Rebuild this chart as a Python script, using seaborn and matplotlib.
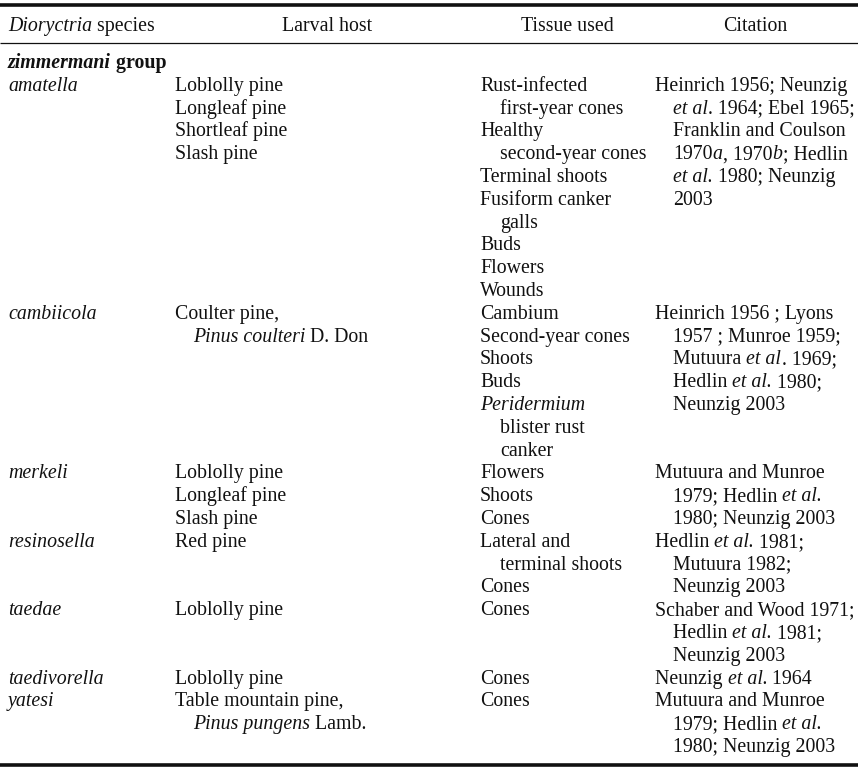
import matplotlib
matplotlib.use("Agg")
import matplotlib.pyplot as plt
import seaborn as sns

# --- table content -------------------------------------------------------
# text between underscores is set in italics
headers = ["_Dioryctria_ species", "Larval host", "Tissue used", "Citation"]
group_label = "_zimmermani_ group"

species = ["amatella", "cambiicola", "merkeli", "resinosella", "taedae",
           "taedivorella", "yatesi"]

# each cell = list of items; "\n" inside an item = wrapped continuation (indented)
hosts = [
    ["Loblolly pine", "Longleaf pine", "Shortleaf pine", "Slash pine"],
    ["Coulter pine,\n_Pinus coulteri_ D. Don"],
    ["Loblolly pine", "Longleaf pine", "Slash pine"],
    ["Red pine"],
    ["Loblolly pine"],
    ["Loblolly pine"],
    ["Table mountain pine,\n_Pinus pungens_ Lamb."],
]

tissues = [
    ["Rust-infected\nfirst-year cones", "Healthy\nsecond-year cones",
     "Terminal shoots", "Fusiform canker\ngalls", "Buds", "Flowers", "Wounds"],
    ["Cambium", "Second-year cones", "Shoots", "Buds",
     "_Peridermium_\nblister rust\ncanker"],
    ["Flowers", "Shoots", "Cones"],
    ["Lateral and\nterminal shoots", "Cones"],
    ["Cones"],
    ["Cones"],
    ["Cones"],
]

citations = [
    ["Heinrich 1956; Neunzig\n_et al_. 1964; Ebel 1965;\nFranklin and Coulson\n"
     "1970_a_, 1970_b_; Hedlin\n_et al._ 1980; Neunzig\n2003"],
    ["Heinrich 1956 ; Lyons\n1957 ; Munroe 1959;\nMutuura _et al_. 1969;\n"
     "Hedlin _et al._ 1980;\nNeunzig 2003"],
    ["Mutuura and Munroe\n1979; Hedlin _et al._\n1980; Neunzig 2003"],
    ["Hedlin _et al._ 1981;\nMutuura 1982;\nNeunzig 2003"],
    ["Schaber and Wood 1971;\nHedlin _et al._ 1981;\nNeunzig 2003"],
    ["Neunzig _et al._ 1964"],
    ["Mutuura and Munroe\n1979; Hedlin _et al._\n1980; Neunzig 2003"],
]

# --- style ---------------------------------------------------------------
sns.set_theme(style="white")
plt.rcParams["font.family"] = ["Liberation Serif", "DejaVu Serif"]

W, H = 858, 770
fig = plt.figure(figsize=(W / 100, H / 100), dpi=100)
ax = fig.add_axes([0, 0, 1, 1])
ax.set_xlim(0, W)
ax.set_ylim(H, 0)
ax.axis("off")
renderer = fig.canvas.get_renderer()

FS = 14.3
ink = "#111111"
col_x = [8, 175, 480, 655]
indent = [0, 18, 20, 18]
pitch = 22.8
base0 = 68


def seg_width(s, **kw):
    # bar-padded measurement so that spaces are counted
    t = ax.text(0, 0, "|" + s + "|", fontsize=FS, **kw)
    b = ax.text(0, 0, "||", fontsize=FS, **kw)
    w = t.get_window_extent(renderer).width - b.get_window_extent(renderer).width
    t.remove()
    b.remove()
    return w


def put(x, y, s, weight="normal", italic=False, ha="left"):
    parts = s.split("_")
    styles = ["italic" if (i % 2 == 1) != italic else "normal" for i in range(len(parts))]
    if ha == "center":
        total = sum(seg_width(p, fontweight=weight, style=st)
                    for p, st in zip(parts, styles) if p)
        x = x - total / 2
    for i, (p, st) in enumerate(zip(parts, styles)):
        if not p:
            continue
        ax.text(x, y, p, fontsize=FS, color=ink, va="baseline", ha="left",
                fontweight=weight, style=st)
        x += seg_width(p, fontweight=weight, style=st)
        # tiny italic correction before upright punctuation
        nxt = parts[i + 1] if i + 1 < len(parts) else ""
        if st == "italic" and not italic and nxt and not nxt.startswith(" "):
            x += 0.6


def cell_lines(items):
    out = []
    for it in items:
        parts = it.split("\n")
        out.append((parts[0], False))
        out += [(p, True) for p in parts[1:]]
    return out


# rules
ax.plot([0, W], [5, 5], color=ink, lw=2.6, solid_capstyle="butt")
ax.plot([0, W], [43, 43], color=ink, lw=0.9, solid_capstyle="butt")
ax.plot([0, W], [764.5, 764.5], color=ink, lw=2.6, solid_capstyle="butt")

# header
put(col_x[0], 31, headers[0])
for cx, h in zip([327, 567, 755], headers[1:]):
    put(cx, 31, h, ha="center")

put(col_x[0], base0, group_label, weight="bold")

line = 1
for sp, ho, ti, ci in zip(species, hosts, tissues, citations):
    put(col_x[0], base0 + line * pitch, sp, italic=True)
    n = 1
    for c, cell in enumerate([ho, ti, ci], start=1):
        rows = cell_lines(cell)
        for k, (txt, cont) in enumerate(rows):
            put(col_x[c] + (indent[c] if cont else 0), base0 + (line + k) * pitch, txt)
        n = max(n, len(rows))
    line += n

fig.savefig("out.png", dpi=100, facecolor="white")
